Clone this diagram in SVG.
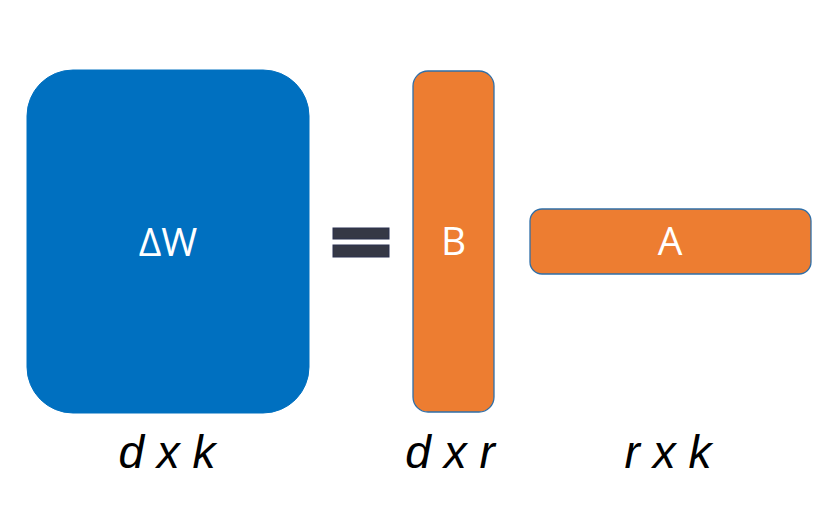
<svg xmlns="http://www.w3.org/2000/svg" width="828" height="528" viewBox="0 0 828 528">
<style>
.mat-blue{fill:#0070C0;stroke:#0070C0;stroke-width:1}
.mat-or{fill:#ED7D31;stroke:#2F6FA8;stroke-width:1.3}
.lbl{font-family:"Open Sans","Noto Sans",sans-serif;font-size:39px;fill:#FFFFFF;text-anchor:middle}
.dim{font-family:"Liberation Sans",Arial,sans-serif;font-style:italic;font-size:46px;fill:#000000;text-anchor:middle}
.eq{fill:#353845;stroke:#2A3050;stroke-width:1}
</style>
<rect width="828" height="528" fill="#FFFFFF"/>
<g id="deltaW">
<rect class="mat-blue" x="27" y="70" width="282" height="343" rx="46" ry="46"/>
<text class="lbl" x="168" y="256">ΔW</text>
</g>
<g id="equals">
<rect class="eq" x="333" y="228" width="56" height="11"/>
<rect class="eq" x="333" y="245" width="56" height="12"/>
</g>
<g id="B">
<rect class="mat-or" x="413" y="71" width="81" height="341" rx="15" ry="15"/>
<text class="lbl" x="453.500" y="255">B</text>
</g>
<g id="A">
<rect class="mat-or" x="530" y="209" width="281" height="65" rx="12" ry="12"/>
<text class="lbl" x="670" y="255">A</text>
</g>
<g id="connectors"/>
<g id="dims">
<text class="dim" x="167" y="468">d x k</text>
<text class="dim" x="450" y="468">d x r</text>
<text class="dim" x="668" y="468">r x k</text>
</g>
</svg>
